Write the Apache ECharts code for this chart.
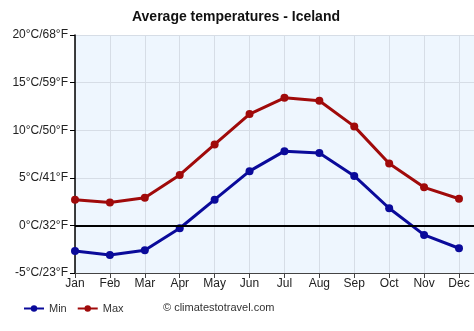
<!DOCTYPE html>
<html><head><meta charset="utf-8">
<script src="https://cdn.jsdelivr.net/npm/echarts@6/dist/echarts.min.js"></script>
<style>html,body{margin:0;padding:0;background:#fff}#c{width:474px;height:331px}</style>
</head><body><div id="c"></div>
<script>
var months = ['Jan','Feb','Mar','Apr','May','Jun','Jul','Aug','Sep','Oct','Nov','Dec'];
var minTemps = [-2.7,-3.1,-2.6,-0.3,2.7,5.7,7.8,7.6,5.2,1.8,-1.0,-2.4];
var maxTemps = [2.7,2.4,2.9,5.3,8.5,11.7,13.4,13.1,10.4,6.5,4.0,2.8];
var yTickLabels = {'-5':'-5°C/23°F','0':'0°C/32°F','5':'5°C/41°F','10':'10°C/50°F','15':'15°C/59°F','20':'20°C/68°F'};

function pairs(arr){ return arr.map(function(v,i){ return [i,v]; }); }
var font = 'Liberation Sans, Arial, sans-serif';
var chart = echarts.init(document.getElementById('c'), null, {renderer:'canvas'});
chart.setOption({
  animation:false,
  title:{text:'Average temperatures - Iceland', left:236, top:10, textAlign:'center', padding:0,
    textStyle:{fontFamily:font,fontSize:14,fontWeight:'bold',color:'#111'}},
  grid:{left:75,right:0,top:35,bottom:58,show:true,backgroundColor:'#eef6fe',borderWidth:0},
  legend:{left:18,top:298,itemWidth:20,itemHeight:8,itemGap:10,
    textStyle:{fontFamily:font,fontSize:11,color:'#333'},
    data:['Min','Max']},
  graphic:[{type:'text',left:163,top:302,style:{text:'© climatestotravel.com',font:'11px Liberation Sans, Arial, sans-serif',fill:'#333'}}],
  xAxis:{type:'value',min:0,max:11.43,interval:1,
    axisLine:{show:true,onZero:false,lineStyle:{color:'#444',width:1}},
    axisTick:{show:true,length:5,lineStyle:{color:'#444'}},
    axisLabel:{fontFamily:font,fontSize:12,color:'#222',margin:5,showMaxLabel:false,
      formatter:function(v){ return months[Math.round(v)] || ''; }},
    splitLine:{show:true,lineStyle:{color:'#d6dde6',width:1}}},
  yAxis:{type:'value',min:-5,max:20,interval:5,
    axisLine:{show:true,lineStyle:{color:'#000',width:1.5}},
    axisTick:{show:true,length:5,lineStyle:{color:'#000'}},
    axisLabel:{fontFamily:font,fontSize:12,color:'#222',margin:7,
      formatter:function(v){ return yTickLabels[String(v)]; }},
    splitLine:{show:true,lineStyle:{color:'#d6dde6',width:1}}},
  series:[
    {name:'Min',type:'line',data:pairs(minTemps),symbol:'circle',symbolSize:8,
      lineStyle:{color:'#0a0a9a',width:3},itemStyle:{color:'#0a0a9a'},
      markLine:{silent:true,symbol:'none',label:{show:false},
        lineStyle:{color:'#000',width:2,type:'solid'},data:[{yAxis:0}]},
      z:3},
    {name:'Max',type:'line',data:pairs(maxTemps),symbol:'circle',symbolSize:8,
      lineStyle:{color:'#a00a0a',width:3},itemStyle:{color:'#a00a0a'},z:3}
  ]
});
</script></body></html>
